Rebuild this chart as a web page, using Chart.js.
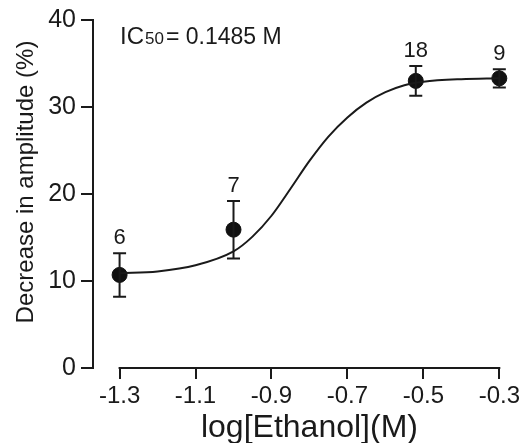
<!DOCTYPE html>
<html>
<head>
<meta charset="utf-8">
<script src="https://cdn.jsdelivr.net/npm/chart.js@4"></script>
<style>
  html, body { margin: 0; padding: 0; background: #fff; }
  #wrap { width: 523px; height: 443px; }
</style>
</head>
<body>
<div id="wrap"><canvas id="chart"></canvas></div>
<script>
'use strict';

// measured points: log[Ethanol] (M), mean decrease (%), error, n
const logConc = [-1.3, -1.0, -0.52, -0.3];
const meanDecrease = [10.7, 15.9, 33.0, 33.3];
const errDecrease = [2.5, 3.3, 1.7, 1.05];
const nLabels = ['6', '7', '18', '9'];

// fitted curve
const curveX = [-1.3, -1.2, -1.1, -1.0, -0.95, -0.9, -0.85, -0.8, -0.75, -0.7, -0.65, -0.6, -0.55, -0.5, -0.4, -0.3];
const curveY = [10.9, 11.1, 11.8, 13.4, 15.1, 17.5, 20.6, 23.8, 26.6, 28.8, 30.5, 31.7, 32.5, 32.9, 33.2, 33.3];

const xTicks = [-1.3, -1.1, -0.9, -0.7, -0.5, -0.3];
const yTicks = [0, 10, 20, 30, 40];

const FONT = "'Liberation Sans', Arial, sans-serif";
const INK = '#1a1a1a';

const extrasPlugin = {
    id: 'extras',
    afterDatasetsDraw(chart) {
        const ctx = chart.ctx;
        const xs = chart.scales.x;
        const ys = chart.scales.y;
        const area = chart.chartArea;
        ctx.save();

        // detached x axis line
        ctx.strokeStyle = INK;
        ctx.lineWidth = 2;
        ctx.beginPath();
        ctx.moveTo(xs.getPixelForValue(xTicks[0]) - 1, area.bottom);
        ctx.lineTo(xs.getPixelForValue(xTicks[xTicks.length - 1]) + 1, area.bottom);
        ctx.stroke();

        // error bars + n labels
        ctx.fillStyle = INK;
        ctx.textAlign = 'center';
        ctx.textBaseline = 'alphabetic';
        ctx.font = '22px ' + FONT;
        for (let i = 0; i < logConc.length; i++) {
            const px = xs.getPixelForValue(logConc[i]);
            const top = ys.getPixelForValue(meanDecrease[i] + errDecrease[i]);
            const bot = ys.getPixelForValue(meanDecrease[i] - errDecrease[i]);
            ctx.beginPath();
            ctx.moveTo(px, top);
            ctx.lineTo(px, bot);
            ctx.moveTo(px - 6.5, top);
            ctx.lineTo(px + 6.5, top);
            ctx.moveTo(px - 6.5, bot);
            ctx.lineTo(px + 6.5, bot);
            ctx.stroke();
            ctx.fillText(nLabels[i], px, top - 9);
        }

        // IC50 annotation
        ctx.textAlign = 'left';
        let x = 120;
        const base = 44;
        ctx.font = '24px ' + FONT;
        ctx.fillText('IC', x, base);
        x += ctx.measureText('IC').width + 1;
        ctx.font = '17px ' + FONT;
        ctx.fillText('50', x, base);
        x += ctx.measureText('50').width + 2;
        ctx.font = '23px ' + FONT;
        ctx.fillText('= 0.1485 M', x, base);

        // axis titles
        ctx.textAlign = 'center';
        ctx.font = '32px ' + FONT;
        const midX = (xs.getPixelForValue(xTicks[0]) + xs.getPixelForValue(xTicks[xTicks.length - 1])) / 2;
        ctx.fillText('log[Ethanol](M)', midX, 437);

        ctx.translate(33, 182);
        ctx.rotate(-Math.PI / 2);
        ctx.font = '24px ' + FONT;
        ctx.fillText('Decrease in amplitude (%)', 0, 0);
        ctx.restore();
    }
};

new Chart(document.getElementById('chart'), {
    type: 'scatter',
    data: {
        datasets: [
            {
                type: 'line',
                data: curveX.map((v, i) => ({ x: v, y: curveY[i] })),
                borderColor: INK,
                borderWidth: 2,
                pointRadius: 0,
                cubicInterpolationMode: 'monotone',
                fill: false,
                clip: false
            },
            {
                data: logConc.map((v, i) => ({ x: v, y: meanDecrease[i] })),
                backgroundColor: '#111',
                borderColor: '#111',
                pointRadius: 7.5,
                pointHoverRadius: 7.5,
                clip: false
            }
        ]
    },
    options: {
        responsive: true,
        maintainAspectRatio: false,
        animation: false,
        layout: { padding: { top: 20, right: 20, left: 0, bottom: 0 } },
        plugins: {
            legend: { display: false },
            tooltip: { enabled: false }
        },
        scales: {
            x: {
                type: 'linear',
                min: -1.37,
                max: -0.3,
                afterBuildTicks(scale) {
                    scale.ticks = xTicks.map(v => ({ value: v }));
                },
                afterFit(scale) { scale.height = 75; },
                border: { display: false },
                grid: {
                    drawOnChartArea: false,
                    drawTicks: true,
                    tickLength: 11,
                    color: INK,
                    lineWidth: 2
                },
                ticks: {
                    color: INK,
                    padding: 3,
                    maxRotation: 0,
                    autoSkip: false,
                    font: { family: FONT, size: 24 },
                    callback: v => v.toFixed(1)
                }
            },
            y: {
                min: 0,
                max: 40,
                afterBuildTicks(scale) {
                    scale.ticks = yTicks.map(v => ({ value: v }));
                },
                afterFit(scale) { scale.width = 93; },
                border: { display: true, color: INK, width: 2 },
                grid: {
                    drawOnChartArea: false,
                    drawTicks: true,
                    tickLength: 12,
                    color: INK,
                    lineWidth: 2
                },
                ticks: {
                    color: INK,
                    padding: 5,
                    font: { family: FONT, size: 25 }
                }
            }
        }
    },
    plugins: [extrasPlugin]
});
</script>
</body>
</html>
